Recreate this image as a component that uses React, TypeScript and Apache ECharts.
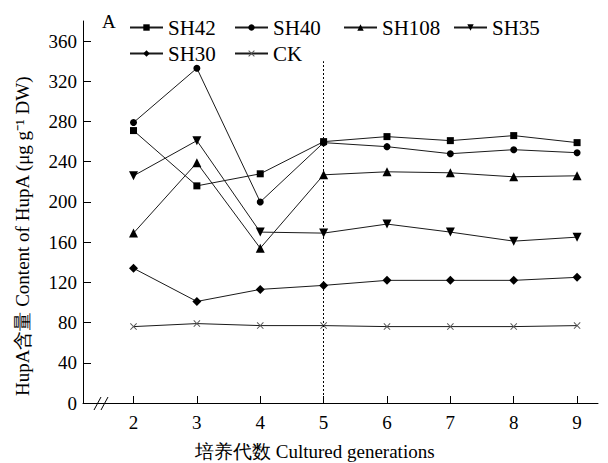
import React, { useEffect, useRef } from "react";
import * as echarts from "echarts";

const generations = [2, 3, 4, 5, 6, 7, 8, 9];
const yTicks = [0, 40, 80, 120, 160, 200, 240, 280, 320, 360];
const sh42 = [271, 216, 228, 260, 265, 261, 266, 259];
const sh40 = [279, 333, 200, 259, 255, 248, 252, 249];
const sh108 = [169, 239, 154, 227, 230, 229, 225, 226];
const sh35 = [226, 261, 170, 169, 178, 170, 161, 165];
const sh30 = [134, 101, 113, 117, 122, 122, 122, 125];
const ck = [76, 79, 77, 77, 76, 76, 76, 77];

const seriesNames = ["SH42", "SH40", "SH108", "SH35", "SH30", "CK"];
const xTitle = "培养代数 Cultured generations";
const yTitle = "HupA含量 Content of HupA (μg g⁻¹ DW)";
const panelLabel = "A";

const FONT = "Liberation Serif";
const CROSS = "path://M1,0 L5,4 L9,0 L10,1 L6,5 L10,9 L9,10 L5,6 L1,10 L0,9 L4,5 L0,1 Z";

const legendPos: Record<string, [number, number]> = {
  SH42: [129, 27],
  SH40: [234, 27],
  SH108: [343, 27],
  SH35: [453, 27],
  SH30: [129, 53],
  CK: [234, 53],
};

export default function App() {
  const ref = useRef<HTMLDivElement>(null);
  useEffect(() => {
    if (!ref.current) return;
    const chart = echarts.init(ref.current, undefined, { renderer: "svg" });
    const pairs = (vals: number[]) => generations.map((g, i) => [g, vals[i]]);
    const mk = (name: string, vals: number[], symbol: string, size: number, extra: any = {}) => ({
      name,
      type: "line",
      data: pairs(vals),
      symbol,
      symbolSize: size,
      lineStyle: { color: "#1a1a1a", width: 1 },
      itemStyle: { color: "#000" },
      emphasis: { disabled: true },
      ...extra,
    });
    const serifRich = (size: number) => ({ s: { fontFamily: FONT, fontSize: size, color: "#000" } });
    const legends = seriesNames.map((n) => ({
      data: [n],
      left: legendPos[n][0],
      top: legendPos[n][1] - 10,
      padding: 0,
      itemWidth: 33,
      itemHeight: 8,
      itemGap: 0,
      formatter: "{s|{name}}",
      textStyle: { fontFamily: FONT, fontSize: 21, color: "#000", rich: serifRich(21) },
      selectedMode: false,
    }));
    chart.setOption({
      animation: false,
      textStyle: { fontFamily: FONT },
      grid: { left: 83, right: 10, top: 21, bottom: 60 },
      legend: legends,
      xAxis: {
        type: "value",
        min: 1.203,
        max: 9.33,
        splitLine: { show: false },
        axisLine: { onZero: false, lineStyle: { color: "#000", width: 1 } },
        axisTick: { inside: true, length: 7, customValues: generations, lineStyle: { color: "#000" } },
        axisLabel: {
          customValues: generations,
          margin: 10,
          fontSize: 19,
          color: "#000",
          fontFamily: FONT,
          formatter: "{s|{value}}",
          rich: serifRich(19),
        },
      },
      yAxis: {
        type: "value",
        min: 0,
        max: 380,
        interval: 40,
        splitLine: { show: false },
        axisLine: { show: true, onZero: false, lineStyle: { color: "#000", width: 1 } },
        axisTick: { show: true, inside: true, length: 8, customValues: yTicks, lineStyle: { color: "#000" } },
        axisLabel: {
          customValues: yTicks,
          margin: 6,
          fontSize: 19,
          color: "#000",
          fontFamily: FONT,
          formatter: "{s|{value}}",
          rich: serifRich(19),
        },
      },
      graphic: [
        {
          type: "text",
          x: 22,
          y: 396,
          rotation: Math.PI / 2,
          style: { text: yTitle, fontSize: 19, fontFamily: FONT, fill: "#000", align: "left", verticalAlign: "middle" },
        },
        {
          type: "text",
          x: 195,
          y: 451,
          style: { text: xTitle, fontSize: 19, fontFamily: FONT, fill: "#000", align: "left", verticalAlign: "middle" },
        },
        {
          type: "text",
          x: 102,
          y: 21,
          style: { text: panelLabel, fontSize: 19, fontFamily: FONT, fill: "#000", align: "left", verticalAlign: "middle" },
        },
        { type: "line", shape: { x1: 94, y1: 410, x2: 101, y2: 397 }, style: { stroke: "#000", lineWidth: 1 } },
        { type: "line", shape: { x1: 101, y1: 410, x2: 108, y2: 397 }, style: { stroke: "#000", lineWidth: 1 } },
      ],
      series: [
        mk("SH42", sh42, "rect", 7, {
          markLine: {
            silent: true,
            symbol: "none",
            label: { show: false },
            lineStyle: { type: [2, 2], color: "#000", width: 1 },
            data: [[{ coord: [5, 0] }, { coord: [5, 340] }]],
          },
        }),
        mk("SH40", sh40, "circle", 7),
        mk("SH108", sh108, "triangle", 9),
        mk("SH35", sh35, "triangle", 9, { symbolRotate: 180 }),
        mk("SH30", sh30, "diamond", 9),
        mk("CK", ck, CROSS, 7, { itemStyle: { color: "#555" } }),
      ],
    });
    return () => chart.dispose();
  }, []);
  return <div ref={ref} style={{ position: "absolute", left: 0, top: 0, width: 608, height: 463 }} />;
}
